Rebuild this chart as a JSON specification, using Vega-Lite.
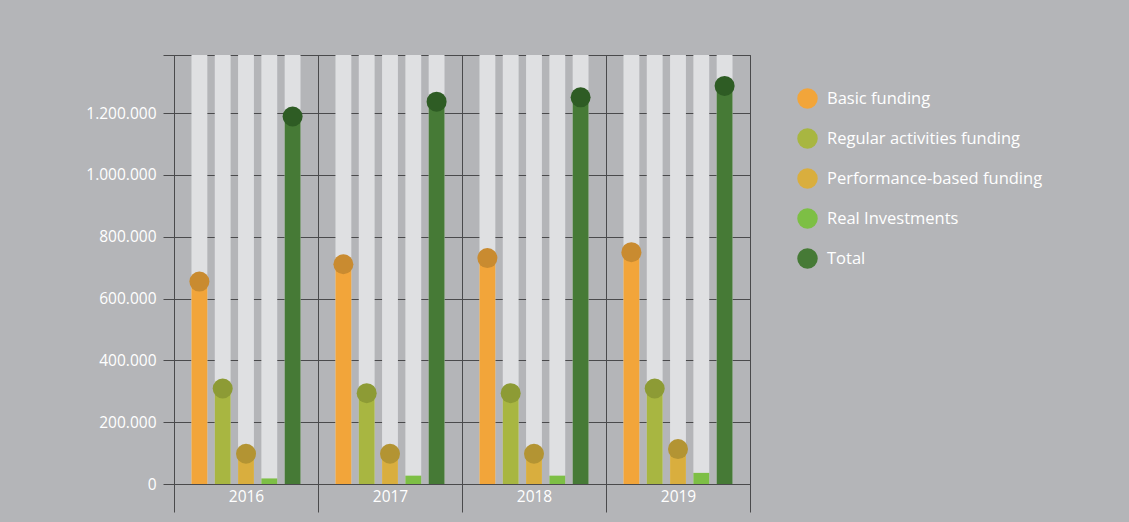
{
  "$schema": "https://vega.github.io/schema/vega-lite/v6.json",
  "autosize": {"type": "none"},
  "width": 576,
  "height": 429,
  "padding": {"left": 174, "top": 55, "right": 379, "bottom": 38},
  "background": "#b4b5b8",
  "config": {
    "locale": {"number": {"decimal": ",", "thousands": ".", "grouping": [3], "currency": ["", "€"]}},
    "view": {"stroke": "#4a4a4c", "strokeWidth": 1},
    "font": "Open Sans"
  },
  "data": {
    "values": [
      {"year": "2016", "category": "Basic funding", "value": 655000},
      {"year": "2016", "category": "Regular activities funding", "value": 309000},
      {"year": "2016", "category": "Performance-based funding", "value": 98000},
      {"year": "2016", "category": "Real Investments", "value": 18000},
      {"year": "2016", "category": "Total", "value": 1189000},
      {"year": "2017", "category": "Basic funding", "value": 711000},
      {"year": "2017", "category": "Regular activities funding", "value": 294000},
      {"year": "2017", "category": "Performance-based funding", "value": 98000},
      {"year": "2017", "category": "Real Investments", "value": 27000},
      {"year": "2017", "category": "Total", "value": 1237000},
      {"year": "2018", "category": "Basic funding", "value": 731000},
      {"year": "2018", "category": "Regular activities funding", "value": 294000},
      {"year": "2018", "category": "Performance-based funding", "value": 98000},
      {"year": "2018", "category": "Real Investments", "value": 27000},
      {"year": "2018", "category": "Total", "value": 1251000},
      {"year": "2019", "category": "Basic funding", "value": 750000},
      {"year": "2019", "category": "Regular activities funding", "value": 309000},
      {"year": "2019", "category": "Performance-based funding", "value": 113000},
      {"year": "2019", "category": "Real Investments", "value": 36000},
      {"year": "2019", "category": "Total", "value": 1288000}
    ]
  },
  "encoding": {
    "x": {
      "field": "year", "type": "nominal",
      "scale": {"paddingInner": 0, "paddingOuter": 0},
      "axis": {
        "title": null, "tickBand": "extent", "tickSize": 28, "tickColor": "#4a4a4c",
        "labelColor": "#ffffff", "labelFontSize": 15.5, "labelPadding": -23, "labelAngle": 0,
        "domain": false, "grid": true, "gridColor": "#4a4a4c"
      }
    },
    "xOffset": {
      "field": "category", "type": "nominal",
      "sort": ["Basic funding", "Regular activities funding", "Performance-based funding", "Real Investments", "Total"],
      "scale": {"paddingInner": 0.32, "paddingOuter": 0.75}
    }
  },
  "layer": [
    {
      "mark": {"type": "bar", "color": "#dfe0e2"},
      "encoding": {
        "y": {"datum": 1388000, "type": "quantitative", "scale": {"domain": [0, 1388000], "nice": false},
          "axis": {
            "title": null,
            "values": [0, 200000, 400000, 600000, 800000, 1000000, 1200000, 1388000],
            "format": ",d",
            "labelExpr": "datum.value > 1300000 ? '' : datum.label",
            "tickSize": 11, "tickColor": "#4a4a4c", "labelPadding": 7,
            "labelColor": "#ffffff", "labelFontSize": 15.5, "domain": false,
            "grid": true, "gridColor": "#4a4a4c"
          }
        },
        "y2": {"datum": 0}
      }
    },
    {
      "mark": {"type": "bar"},
      "encoding": {
        "y": {"field": "value", "type": "quantitative", "title": null},
        "color": {
          "field": "category", "type": "nominal",
          "sort": ["Basic funding", "Regular activities funding", "Performance-based funding", "Real Investments", "Total"],
          "scale": {
            "domain": ["Basic funding", "Regular activities funding", "Performance-based funding", "Real Investments", "Total"],
            "range": ["#f2a53a", "#a8b641", "#d9ae3e", "#7dbf45", "#467a36"]
          },
          "legend": {
            "title": null, "orient": "none", "legendX": 623, "legendY": 33,
            "symbolType": "circle", "symbolSize": 420, "symbolStrokeWidth": 0, "symbolOpacity": 1,
            "labelColor": "#ffffff", "labelFontSize": 16.5, "labelOffset": 9, "rowPadding": 19, "labelLimit": 300
          }
        }
      }
    },
    {
      "transform": [{"filter": "datum.category !== 'Real Investments'"}],
      "mark": {"type": "circle", "size": 400, "opacity": 1},
      "encoding": {
        "y": {"field": "value", "type": "quantitative", "title": null},
        "fill": {
          "field": "category", "type": "nominal",
          "scale": {
            "domain": ["Basic funding", "Regular activities funding", "Performance-based funding", "Total"],
            "range": ["#c98b30", "#8d9b35", "#b39433", "#2e5c24"]
          },
          "legend": null
        }
      }
    }
  ]
}
